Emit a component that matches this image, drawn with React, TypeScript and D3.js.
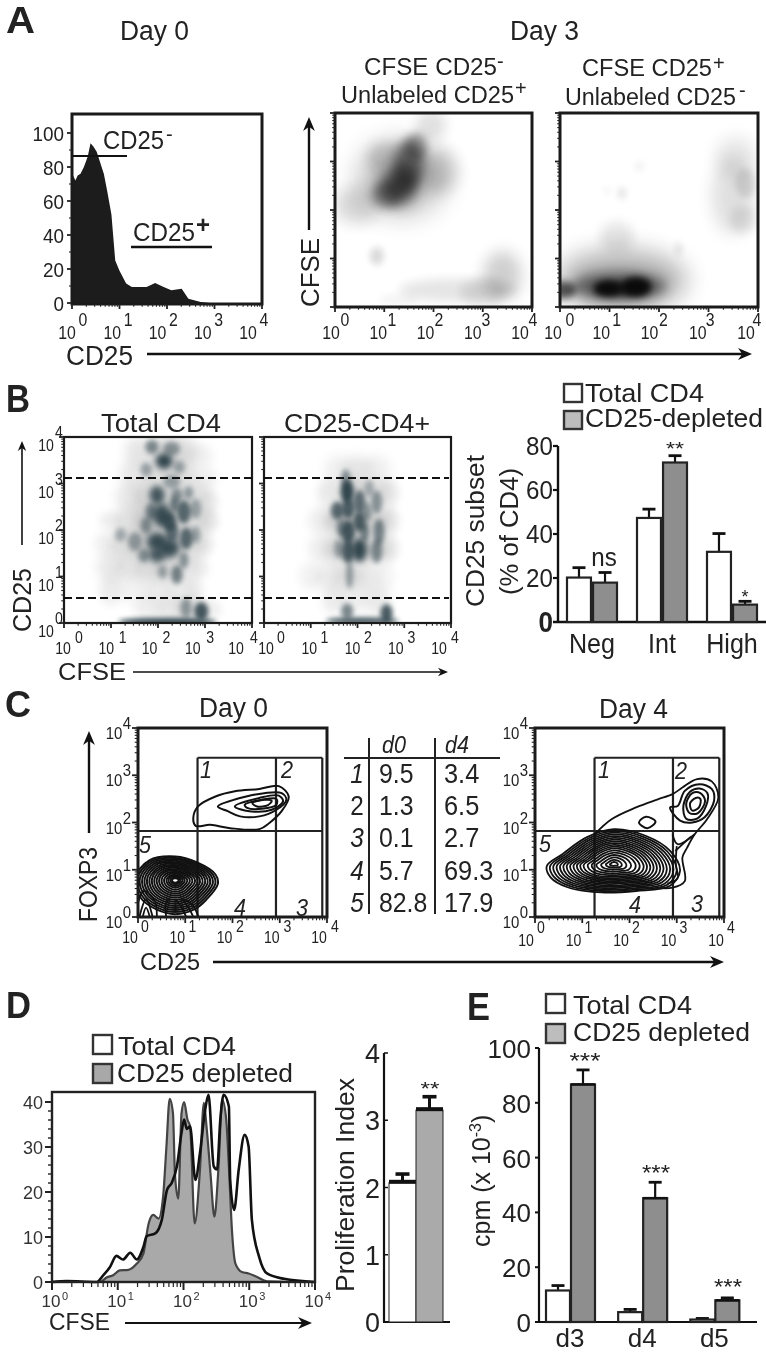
import React from 'react';
import * as d3 from 'd3';

// panel A histogram, log10 CD25 and % of max
const histLog = [0, .04, .07, .12, .18, .25, .33, .39, .45, .52, .6, .67, .74, .83, .91, 1.0, 1.14, 1.26, 1.57, 1.75, 1.93, 2.09, 2.2, 2.31, 2.45, 2.71, 2.91, 4];
const histPct = [76, 74, 72, 75, 76, 80, 86, 94, 92, 89, 82, 76, 66, 52, 25, 19, 11.4, 9.4, 9.4, 11.8, 9.4, 7.5, 8, 8.4, 2.5, .6, 0, 0];

// density clusters: [log x, log y, rx, ry, opacity]
type Blob = number[];
const denA2: Blob[] = [
  [1.35, 2.65, .85, .72, .3], [.45, 2.1, .45, .38, .16], [2.1, 2.8, .38, .45, .18], [1.95, 3.75, .3, .32, .12], [1.0, 3.1, .35, .3, .15],
  [1.25, 2.45, .38, .36, .62], [1.5, 2.95, .3, .5, .55], [1.65, 3.3, .22, .28, .35], [1.05, 2.3, .3, .25, .32], [1.4, 2.65, .28, .35, .35],
  [3.4, .65, .38, .5, .2], [2.5, .35, 1.2, .24, .1], [.85, 1.05, .14, .18, .16], [3.0, .3, .45, .28, .1], [1.3, .15, .4, .12, .04],
];
const denA3: Blob[] = [
  [1.25, .55, 1.3, .62, .32], [1.2, .42, .95, .3, .5], [.95, .38, .28, .16, .95], [1.55, .42, .3, .2, .98], [1.25, .38, .5, .14, .8],
  [.05, .35, .28, .18, .65], [3.5, 2.3, .42, .8, .13], [3.55, 3.1, .42, .42, .09], [3.75, 2.55, .2, .3, .12], [3.7, 1.8, .25, .28, .09],
  [1.25, 2.35, .08, .12, .12], [.95, 2.4, .05, .06, .1], [1.6, 2.9, .1, .1, .06], [2.4, 1.2, .08, .15, .1], [1.15, 1.45, .35, .3, .1],
];
const denB1: Blob[] = [
  [1.6, 3.7, .3, .3, .16], [2.1, 3.7, .3, .3, .25], [2.5, 3.7, .3, .3, .22], [2.9, 3.6, .25, .25, .1],
  [1.5, 3.2, .3, .3, .15], [2.0, 3.2, .3, .3, .22], [2.5, 3.2, .3, .3, .22], [3.0, 3.1, .25, .25, .1],
  [1.4, 2.7, .3, .3, .15], [1.8, 2.7, .3, .3, .25], [2.3, 2.7, .3, .3, .25], [2.8, 2.7, .3, .3, .2], [3.1, 2.6, .2, .25, .1],
  [1.0, 2.2, .25, .2, .1], [1.4, 2.2, .3, .3, .18], [1.8, 2.2, .3, .3, .3], [2.3, 2.2, .3, .3, .3], [2.8, 2.2, .3, .3, .22], [3.1, 2.2, .2, .25, .12],
  [.9, 1.7, .25, .25, .1], [1.3, 1.7, .3, .3, .2], [1.7, 1.7, .3, .3, .3], [2.2, 1.7, .3, .3, .32], [2.7, 1.7, .3, .3, .22], [3.0, 1.7, .2, .25, .1],
  [1.0, 1.2, .3, .3, .14], [1.4, 1.2, .3, .3, .14], [1.8, 1.2, .3, .3, .2], [2.2, 1.2, .3, .3, .22], [2.6, 1.2, .3, .3, .15], [2.9, 1.2, .2, .25, .08],
  [1.0, .7, .25, .3, .12], [1.5, .7, .3, .3, .08], [2.0, .7, .3, .3, .12], [2.5, .7, .3, .3, .12], [2.8, .7, .2, .25, .08],
  [1.8, .3, .3, .25, .1], [2.3, .3, .3, .25, .14], [2.7, .3, .3, .25, .2], [3.1, .3, .25, .2, .1],
  [2.13, 3.48, .18, .17, .95], [1.87, 3.79, .14, .15, .55], [2.29, 3.75, .18, .15, .45], [1.98, 2.75, .16, .2, .85],
  [2.08, 2.32, .2, .25, .9], [2.55, 2.39, .15, .25, .75], [2.24, 2.18, .15, .2, .8], [1.98, 1.75, .22, .2, .9],
  [2.24, 1.61, .22, .2, .9], [2.6, 1.82, .14, .24, .75], [1.98, 1.46, .18, .16, .8], [2.4, 1.04, .12, .2, .6],
  [1.51, 1.75, .15, .2, .4], [2.29, 3.04, .18, .15, .4], [2.8, 2.46, .12, .22, .4], [2.4, 2.75, .12, .15, .5],
  [1.75, 2.1, .12, .18, .5], [2.35, 2.55, .1, .16, .6], [2.3, 1.95, .14, .2, .7], [1.85, 2.4, .12, .18, .55], [2.65, 2.8, .1, .14, .45],
  [1.7, 1.45, .12, .15, .5], [2.55, 1.35, .1, .18, .5], [2.8, 1.9, .1, .18, .4], [1.75, 3.3, .12, .15, .4], [2.45, 3.35, .12, .14, .4], [2.1, 1.1, .1, .15, .4], [1.2, 1.9, .12, .15, .36],
  [2.92, .25, .15, .2, .85], [2.6, .32, .12, .22, .45], [2.2, .03, 1.05, .08, .98],
];
const denB2: Blob[] = [
  [1.6, 3.3, .3, .3, .1], [2.0, 3.3, .3, .3, .14], [2.4, 3.3, .3, .3, .1],
  [1.4, 2.8, .25, .3, .14], [1.9, 2.8, .3, .3, .3], [2.4, 2.8, .3, .3, .2], [2.7, 2.8, .2, .3, .1],
  [1.2, 2.2, .25, .3, .1], [1.6, 2.2, .3, .3, .3], [2.0, 2.2, .3, .3, .32], [2.4, 2.2, .3, .3, .25], [2.7, 2.2, .2, .3, .12],
  [1.2, 1.6, .25, .3, .1], [1.6, 1.6, .3, .3, .28], [2.0, 1.6, .3, .3, .32], [2.4, 1.6, .3, .3, .25], [2.7, 1.6, .2, .3, .1],
  [1.0, 1.0, .25, .3, .08], [1.4, 1.0, .3, .3, .12], [1.8, 1.0, .3, .3, .18], [2.2, 1.0, .3, .3, .14], [2.6, 1.0, .2, .3, .06],
  [1.5, .5, .25, .3, .12], [1.9, .5, .25, .3, .1], [2.4, .5, .3, .3, .14],
  [1.78, 2.82, .14, .25, .95], [1.8, 2.46, .14, .22, .8], [1.57, 2.42, .14, .2, .75], [2.04, 2.6, .13, .25, .7],
  [2.04, 2.18, .13, .22, .8], [1.8, 1.96, .15, .25, .85], [2.04, 1.57, .16, .25, .95], [1.8, 1.54, .14, .25, .8],
  [2.41, 2.6, .12, .25, .5], [2.46, 1.96, .12, .28, .6], [2.41, 1.54, .12, .25, .55], [1.83, 1.04, .08, .3, .45],
  [1.65, 2.05, .1, .2, .5], [2.15, 1.95, .1, .2, .6], [1.6, 1.6, .1, .2, .4], [2.2, 2.4, .1, .2, .45], [1.75, 3.1, .1, .2, .55], [2.25, 2.9, .1, .18, .35],
  [2.62, .21, .13, .2, .85], [1.78, .25, .13, .17, .6], [2.1, .05, .78, .07, .9],
];

// panel C contours, log x / log y
const c0Upper = [
  [[1.17, 2.1], [1.27, 2.34], [1.64, 2.55], [2.05, 2.66], [2.57, 2.71], [2.98, 2.77], [3.19, 2.55], [3.04, 2.24], [2.78, 1.99], [2.57, 1.86], [1.95, 1.88], [1.53, 1.95], [1.22, 1.93]],
  [[1.69, 2.34], [2.16, 2.52], [2.67, 2.62], [3.04, 2.62], [3.14, 2.48], [2.93, 2.27], [2.57, 2.13], [2.16, 2.13], [1.9, 2.24]],
  [[2.05, 2.34], [2.57, 2.52], [2.98, 2.57], [3.07, 2.45], [2.83, 2.27], [2.36, 2.24]],
  [[2.26, 2.38], [2.62, 2.48], [2.93, 2.5], [2.93, 2.38], [2.62, 2.29], [2.31, 2.31]],
  [[2.42, 2.41], [2.67, 2.48], [2.83, 2.46], [2.75, 2.37], [2.52, 2.34]],
];
const c0Center = [.79, .78];
const c0Outline = [[0, .5], [.45, .38], [.85, .12], [.9, -.08], [.65, -.42], [.4, -.62], [0, -.72], [-.4, -.62], [-.75, -.35], [-.85, .05], [-.55, .42]];
const c0Levels = [1, .94, .88, .82, .76, .7, .64, .58, .52, .46, .4, .34, .28, .22, .17, .12, .08];
const c0Arches = [
  [[.03, 0], [.17, .37], [.31, 0]], [[.1, 0], [.17, .2], [.25, 0]], [[.0, .3], [.12, .55], [.35, .35], [.4, 0]],
  [[1.28, 0], [1.17, .23], [1.0, .37]], [[1.17, 0], [1.07, .2], [.92, .4]], [[1.02, 0], [.93, .19], [.81, .36]], [[.6, 0], [.58, .22], [.65, .4]],
];
const c4Center = [1.67, 1.12];
const c4Outline = [[0, .74], [.67, .6], [1.19, .28], [1.4, -.14], [1.19, -.46], [.47, -.57], [-.26, -.6], [-.98, -.49], [-1.34, -.28], [-1.42, -.04], [-1.09, .21], [-.57, .57]];
const c4Levels = [1, .95, .9, .85, .8, .75, .7, .65, .6, .55, .5, .45, .39, .33, .26, .19, .12, .06];
const c4Link = [[1.26, 1.75], [1.62, 2.07], [2.14, 2.32], [2.6, 2.49], [2.91, 2.6], [3.12, 2.74], [3.43, 2.92], [3.74, 2.87], [3.88, 2.53], [3.64, 2.07], [3.38, 1.75], [3.22, 1.47], [3.12, 1.26], [3.17, .76], [2.91, .62], [2.55, .62]];
const c4Upper = [
  [[2.86, 2.32], [3.02, 2.35], [3.17, 2.67], [3.48, 2.81], [3.74, 2.71], [3.79, 2.46], [3.59, 2.11], [3.33, 2.0], [3.07, 2.04]],
  [[3.14, 2.35], [3.28, 2.65], [3.48, 2.72], [3.65, 2.62], [3.62, 2.35], [3.43, 2.08], [3.2, 2.08]],
  [[3.2, 2.4], [3.33, 2.62], [3.5, 2.62], [3.6, 2.46], [3.45, 2.2], [3.27, 2.2]],
  [[3.28, 2.4], [3.4, 2.52], [3.5, 2.5], [3.47, 2.32], [3.33, 2.25]],
  [[2.2, 2.0], [2.35, 2.12], [2.55, 2.02], [2.38, 1.88]],
];
const c4Extra = [[[2.91, 1.75], [3.02, 1.54], [3.38, 1.75]], [[2.97, 1.4], [3.3, 1.7]], [[3.0, 1.5], [2.98, 1.1], [3.02, .83], [2.8, .7]]];

const tableRows = ['1', '2', '3', '4', '5'];
const tableD0 = ['9.5', '1.3', '0.1', '5.7', '82.8'];
const tableD4 = ['3.4', '6.5', '2.7', '69.3', '17.9'];

// panel D histograms: log10 CFSE and counts
const grayLog = [0, .73, .83, .93, 1.03, 1.16, 1.29, 1.39, 1.47, 1.54, 1.62, 1.69, 1.74, 1.79, 1.84, 1.87, 1.92, 1.97, 2.01, 2.06, 2.1, 2.17, 2.25, 2.31, 2.35, 2.41, 2.47, 2.53, 2.59, 2.65, 2.69, 2.74, 2.79, 2.89, 2.99, 3.12, 3.27, 4];
const grayCount = [0, 0, 1, 1.5, 2.6, 2.7, 4.1, 6.3, 13, 14.9, 14.1, 19, 30, 40.7, 37.5, 24, 18.5, 37.5, 40, 36.1, 34.6, 13, 24.9, 39.8, 34.6, 24.2, 14.5, 24.9, 40.5, 36.1, 25.7, 10.8, 4.1, 2.2, 1.9, 1.1, .15, 0];
const blackLog = [0, .22, .68, .78, .88, .98, 1.08, 1.19, 1.29, 1.39, 1.44, 1.57, 1.67, 1.75, 1.82, 1.9, 1.97, 2.01, 2.05, 2.1, 2.18, 2.25, 2.33, 2.38, 2.46, 2.51, 2.56, 2.61, 2.69, 2.71, 2.77, 2.84, 2.93, 2.99, 3.04, 3.15, 3.27, 3.53, 4];
const blackCount = [0, .2, 0, 1.5, 3.3, 5.8, 5, 6.5, 5, 7.8, 10.2, 10.8, 13.8, 20.5, 22, 25.7, 33.2, 36.1, 34, 34.6, 22.7, 28.6, 38.3, 41.6, 25.7, 25, 36.1, 41.6, 39, 22.7, 16, 25, 32.7, 30.1, 13.8, 5.6, 1.9, .7, 0];

// bar charts
const subsetCats = ['Neg', 'Int', 'High'];
const subsetTotal = [20.2, 47.3, 31.9];
const subsetTotalErr = [24.7, 51.3, 40.2];
const subsetDepl = [17.9, 72.5, 7.9];
const subsetDeplErr = [22.5, 75.6, 9.4];
const prolifVals = [2.07, 3.15];
const prolifErr = [2.2, 3.35];
const cpmCats = ['d3', 'd4', 'd5'];
const cpmTotal = [11.5, 3.6, .9];
const cpmTotalErr = [13.3, 4.6, 1.3];
const cpmDepl = [86.7, 45.2, 7.9];
const cpmDeplErr = [92, 51, 8.8];

const FONT = '"Liberation Sans", Arial, sans-serif';
const INK = '#222';
const decades = [0, 1, 2, 3, 4];
const minors = decades.slice(0, 4).flatMap(d => [2, 3, 4, 5, 6, 7, 8, 9].map(m => d + Math.log10(m)));

const T = ({ x, y, s = 18, len, anchor = 'start', rot, i, b, sx, fill = INK, children }: any) => (
  <text fontSize={s} fontFamily={FONT} fill={fill} textAnchor={anchor}
    fontStyle={i ? 'italic' : undefined} fontWeight={b ? 'bold' : undefined}
    textLength={len} lengthAdjust={len ? 'spacingAndGlyphs' : undefined}
    transform={`translate(${x} ${y})${rot ? ` rotate(${rot})` : ''}${sx ? ` scale(${sx} 1)` : ''}`}>{children}</text>
);

const Arrow = ({ x1, y1, x2, y2, w = 2.4, head = 14 }: any) => {
  const a = Math.atan2(y2 - y1, x2 - x1);
  const pt = (d: number, o: number) => `${x2 - d * Math.cos(a) - o * Math.sin(a)},${y2 - d * Math.sin(a) + o * Math.cos(a)}`;
  return (
    <g>
      <line x1={x1} y1={y1} x2={x2 - head * .6 * Math.cos(a)} y2={y2 - head * .6 * Math.sin(a)} stroke="#111" strokeWidth={w} />
      <polygon points={`${x2},${y2} ${pt(head, head * .42)} ${pt(head * .7, 0)} ${pt(head, -head * .42)}`} fill="#111" />
    </g>
  );
};

const Frame = ({ x, y, sw = 3 }: any) => {
  const [x0, x1] = x.range(), [y0, y1] = y.range();
  return <rect x={x0} y={y1} width={x1 - x0} height={y0 - y1} fill="none" stroke="#1a1a1a" strokeWidth={sw} />;
};

// log ticks along left and bottom of a flow plot
const LogTicks = ({ x, y, left = true, bottom = true, len = 5 }: any) => (
  <g stroke="#222">
    {bottom && decades.map(d => <line key={d} x1={x(d)} x2={x(d)} y1={y.range()[0]} y2={y.range()[0] + len} strokeWidth={1.8} />)}
    {bottom && minors.map(d => <line key={d} x1={x(d)} x2={x(d)} y1={y.range()[0]} y2={y.range()[0] + len * .55} strokeWidth={1.1} />)}
    {left && decades.map(d => <line key={d} y1={y(d)} y2={y(d)} x1={x.range()[0]} x2={x.range()[0] - len} strokeWidth={1.8} />)}
    {left && minors.map(d => <line key={d} y1={y(d)} y2={y(d)} x1={x.range()[0]} x2={x.range()[0] - len * .55} strokeWidth={1.1} />)}
  </g>
);

// "10" and its raised exponent are placed along their own label spans
const XPow = ({ ten, sup, y0, gap = 13, s = 18 }: any) => {
  const tx = d3.scaleLinear().domain([0, 4]).range(ten);
  const sx = d3.scaleLinear().domain([0, 4]).range(sup);
  return (
    <g>
      {decades.map(d => (
        <g key={d}>
          <T x={tx(d)} y={y0} s={s} sx={.88} anchor="middle">10</T>
          <T x={sx(d)} y={y0 - gap} s={s} sx={.88} anchor="middle">{d}</T>
        </g>
      ))}
    </g>
  );
};

const YPow = ({ y, xTen, xSup, dy = 14, sdy = -2, s = 17 }: any) => (
  <g>
    {decades.map(d => (
      <g key={d}>
        <T x={xTen} y={y(d) + dy} s={s} sx={.88} anchor="middle">10</T>
        <T x={xSup} y={y(d) + sdy} s={s} sx={.88} anchor="middle">{d}</T>
      </g>
    ))}
  </g>
);

// faint clusters stay neutral grey, only the dense ones take the plot colour
const Density = ({ id, data, x, y, color, cloud, blur }: any) => {
  const [x0, x1] = x.range(), [y0, y1] = y.range();
  const kx = (x1 - x0) / 4, ky = (y0 - y1) / 4;
  const sigma = (b: Blob) => Math.max(blur, .4 * Math.min(b[2] * kx, b[3] * ky));
  return (
    <g>
      <defs>
        <clipPath id={id}><rect x={x0} y={y1} width={x1 - x0} height={y0 - y1} /></clipPath>
        {data.map((b: Blob, i: number) => (
          <filter key={i} id={`${id}f${i}`} x="-150%" y="-150%" width="400%" height="400%" colorInterpolationFilters="sRGB"><feGaussianBlur stdDeviation={sigma(b)} /></filter>
        ))}
      </defs>
      <g clipPath={`url(#${id})`}>
        {data.map((b: Blob, i: number) => (
          <ellipse key={i} cx={x(b[0])} cy={y(b[1])} rx={b[2] * kx} ry={b[3] * ky} fill={b[4] < .35 ? cloud : color} opacity={b[4]} filter={`url(#${id}f${i})`} />
        ))}
      </g>
    </g>
  );
};

const Rings = ({ rings, x, y, sw = 2 }: any) => {
  const line = d3.line<number[]>().x(p => x(p[0])).y(p => y(p[1])).curve(d3.curveCatmullRomClosed.alpha(.5));
  return <g fill="none" stroke="#111" strokeWidth={sw}>{rings.map((r: number[][], i: number) => <path key={i} d={line(r) as string} />)}</g>;
};

const Opens = ({ lines, x, y, sw = 1.8 }: any) => {
  const line = d3.line<number[]>().x(p => x(p[0])).y(p => y(p[1])).curve(d3.curveCatmullRom.alpha(.5));
  return <g fill="none" stroke="#111" strokeWidth={sw}>{lines.map((r: number[][], i: number) => <path key={i} d={line(r) as string} />)}</g>;
};

const scaled = (center: number[], outline: number[][], levels: number[]) =>
  levels.map(l => outline.map(p => [center[0] + p[0] * l, center[1] + p[1] * l]));

const Gates = ({ x, y }: any) => {
  const gx = [1.26, 2.92, 3.9], gy = [3.37, 1.82];
  return (
    <g stroke="#222" strokeWidth={2.2} fill="none">
      <line x1={x(0)} x2={x(gx[2])} y1={y(gy[1])} y2={y(gy[1])} />
      <line x1={x(gx[0])} x2={x(gx[2])} y1={y(gy[0])} y2={y(gy[0])} />
      {gx.map(g => <line key={g} x1={x(g)} x2={x(g)} y1={y(gy[0])} y2={y(0)} />)}
    </g>
  );
};

const Legend = ({ x, y0, y1, box, tx, txt, txtLen, fill, base, s, gap, sw = 2.4 }: any) => (
  <g>
    <rect x={x} y={y0} width={box} height={box} fill="#fff" stroke="#333" strokeWidth={sw} />
    <rect x={x} y={y1} width={box} height={box} fill={fill} stroke="#333" strokeWidth={sw} />
    <T x={tx} y={base[0]} s={s} len={txtLen[0]}>{txt[0]}</T>
    <T x={tx + gap} y={base[1]} s={s} len={txtLen[1]}>{txt[1]}</T>
  </g>
);

const Bar = ({ x0, x1, top, err, base, fill, sw = 2.2, capW, errW = 2.2 }: any) => (
  <g>
    <line x1={(x0 + x1) / 2} x2={(x0 + x1) / 2} y1={top} y2={err} stroke="#111" strokeWidth={errW} />
    <line x1={(x0 + x1) / 2 - capW / 2} x2={(x0 + x1) / 2 + capW / 2} y1={err} y2={err} stroke="#111" strokeWidth={errW + .6} />
    <rect x={x0} y={top} width={x1 - x0} height={base - top} fill={fill} stroke="#222" strokeWidth={sw} />
  </g>
);

export default function App() {
  // A
  const hx = d3.scaleLinear().domain([0, 4]).range([72, 262]);
  const hy = d3.scaleLinear().domain([0, 100]).range([303, 133]);
  const histFrameY = d3.scaleLinear().domain([0, 4]).range([304, 114]);
  const histArea = d3.area<number>().x((_, i) => hx(histLog[i])).y0(hy(0)).y1(d => hy(d));
  const a2x = d3.scaleLinear().domain([0, 4]).range([335, 532]);
  const a3x = d3.scaleLinear().domain([0, 4]).range([560, 758]);
  const ay = d3.scaleLinear().domain([0, 4]).range([307, 113]);

  // B
  const b1x = d3.scaleLinear().domain([0, 4]).range([64, 252]);
  const b2x = d3.scaleLinear().domain([0, 4]).range([264, 451]);
  const by = d3.scaleLinear().domain([0, 4]).range([623, 437]);
  const sy = d3.scaleLinear().domain([0, 80]).range([622, 446]);
  const sBand = d3.scaleBand().domain(subsetCats).range([557, 767]);
  const sInner = d3.scaleBand().domain(['t', 'd']).range([0, 50]).paddingInner(.08);

  // C
  const c0x = d3.scaleLinear().domain([0, 4]).range([138, 327]);
  const c4x = d3.scaleLinear().domain([0, 4]).range([535, 724]);
  const cy = d3.scaleLinear().domain([0, 4]).range([917, 728]);

  // D
  const dx = d3.scaleLinear().domain([0, 4]).range([52, 315]);
  const dy = d3.scaleLinear().domain([0, 40]).range([1282, 1102]);
  const grayArea = d3.area<number>().x((_, i) => dx(grayLog[i])).y0(dy(0)).y1(d => dy(d)).curve(d3.curveMonotoneX);
  const blackLine = d3.line<number>().x((_, i) => dx(blackLog[i])).y(d => dy(d)).curve(d3.curveMonotoneX);
  const py = d3.scaleLinear().domain([0, 4]).range([1322, 1053]);
  const pBars = d3.scaleBand().domain(['t', 'd']).range([389, 443]);

  // E
  const ey = d3.scaleLinear().domain([0, 100]).range([1322, 1048]);
  const eBand = d3.scaleBand().domain(cpmCats).range([534, 750.5]);
  const eInner = d3.scaleBand().domain(['t', 'd']).range([0, 49]).paddingInner(.04);

  return (
    <svg width={766} height={1354} style={{ position: 'absolute', left: 0, top: 0, background: '#fff' }}>
      <defs>
        <filter id="soft" x="0" y="0" width="100%" height="100%" colorInterpolationFilters="sRGB"><feGaussianBlur stdDeviation=".45" /></filter>
      </defs>
      <g filter="url(#soft)">
        {/* ---- A ---- */}
        <T x={6} y={33} s={36} b len={29}>A</T>
        <T x={120} y={40} s={27} len={69}>Day 0</T>
        <T x={510} y={40} s={27} len={69}>Day 3</T>
        <T x={364} y={75} s={23} len={133}>CFSE CD25</T>
        <T x={497} y={68} s={20}>-</T>
        <T x={341} y={103} s={23} len={173}>Unlabeled CD25</T>
        <T x={515} y={95} s={20}>+</T>
        <T x={582} y={76} s={23} len={130}>CFSE CD25</T>
        <T x={713} y={70} s={20}>+</T>
        <T x={565} y={105} s={23} len={171}>Unlabeled CD25</T>
        <T x={739} y={97} s={20}>-</T>

        <path d={histArea(histPct) as string} fill="#1c1c1c" />
        <Frame x={hx} y={histFrameY} />
        <LogTicks x={hx} y={histFrameY} left={false} />
        {[0, 20, 40, 60, 80, 100].map(v => (
          <g key={v}>
            <line x1={72} x2={67} y1={hy(v)} y2={hy(v)} stroke="#222" strokeWidth={1.8} />
            <T x={64} y={hy(v) + 8} s={21} sx={.9} anchor="end">{v}</T>
          </g>
        ))}
        {[10, 30, 50, 70, 90].map(v => <line key={v} x1={72} x2={69} y1={hy(v)} y2={hy(v)} stroke="#222" strokeWidth={1.1} />)}
        <line x1={73} x2={127} y1={156} y2={156} stroke="#111" strokeWidth={2.2} />
        <T x={103} y={149} s={25} len={61}>CD25</T>
        <T x={166} y={141} s={20}>-</T>
        <line x1={131} x2={212} y1={247} y2={247} stroke="#111" strokeWidth={2.6} />
        <T x={133} y={241} s={25} len={62}>CD25</T>
        <T x={196} y={233} s={24} b>+</T>
        <XPow ten={[67, 248]} sup={[83, 264]} y0={339} />
        <T x={66} y={365} s={27} len={67}>CD25</T>
        <Arrow x1={147} y1={354} x2={752} y2={354} />

        <Density id="a2" data={denA2} x={a2x} y={ay} color="#111" cloud="#111" blur={3.5} />
        <Frame x={a2x} y={ay} />
        <LogTicks x={a2x} y={ay} />
        <XPow ten={[331, 520]} sup={[345, 533]} y0={339} />
        <Density id="a3" data={denA3} x={a3x} y={ay} color="#0a0a0a" cloud="#0a0a0a" blur={3.5} />
        <Frame x={a3x} y={ay} />
        <LogTicks x={a3x} y={ay} />
        <XPow ten={[553, 746]} sup={[570, 757]} y0={339} />
        <T x={319} y={307} s={26} len={69} rot={-90}>CFSE</T>
        <Arrow x1={309} y1={230} x2={309} y2={117} />

        {/* ---- B ---- */}
        <T x={6} y={412} s={38} b len={24}>B</T>
        <T x={101} y={432} s={26} len={120}>Total CD4</T>
        <T x={284} y={432} s={26} len={146}>CD25-CD4+</T>
        <Density id="b1" data={denB1} x={b1x} y={by} color="#2a3f47" cloud="#666" blur={2.7} />
        <Density id="b2" data={denB2} x={b2x} y={by} color="#2a3f47" cloud="#666" blur={2.7} />
        <Frame x={b1x} y={by} sw={2.2} />
        <Frame x={b2x} y={by} sw={2.2} />
        <LogTicks x={b1x} y={by} />
        <LogTicks x={b2x} y={by} />
        {[478, 598].map(v => (
          <g key={v}>
            <line x1={64} x2={252} y1={v} y2={v} stroke="#111" strokeWidth={2.2} strokeDasharray="8 4" />
            <line x1={264} x2={449} y1={v} y2={v} stroke="#111" strokeWidth={2.2} strokeDasharray="8 4" />
          </g>
        ))}
        <YPow y={by} xTen={46} xSup={59} dy={14} sdy={1} s={16} />
        <XPow ten={[63, 236]} sup={[79, 254]} y0={654} gap={11} s={16} />
        <XPow ten={[266, 439]} sup={[281, 455]} y0={654} gap={11} s={16} />
        <T x={58} y={680} s={23} len={68}>CFSE</T>
        <Arrow x1={133} y1={672} x2={448} y2={672} w={1.6} head={10} />
        <T x={31} y={632} s={25} len={64} rot={-90}>CD25</T>
        <Arrow x1={22} y1={545} x2={22} y2={441} w={1.6} head={10} />

        <T x={484} y={607} s={25} len={152} rot={-90}>CD25 subset</T>
        <T x={518} y={595} s={25} len={127} rot={-90}>(% of CD4)</T>
        <line x1={558} x2={558} y1={446} y2={622} stroke="#111" strokeWidth={2.4} />
        <line x1={553} x2={766} y1={622} y2={622} stroke="#111" strokeWidth={2.6} />
        {[20, 40, 60, 80].map(v => (
          <g key={v}>
            <line x1={553} x2={558} y1={sy(v)} y2={sy(v)} stroke="#111" strokeWidth={2.2} />
            <T x={553} y={sy(v) + 9} s={26} sx={.93} anchor="end">{v}</T>
          </g>
        ))}
        <T x={553} y={632} s={29} b sx={.9} anchor="end">0</T>
        {subsetCats.map((c, i) => {
          const x0 = (sBand(c) as number) + 10;
          const tx = x0 + (sInner('t') as number), dx0 = x0 + (sInner('d') as number), bw = sInner.bandwidth();
          return (
            <g key={c}>
              <Bar x0={tx} x1={tx + bw} top={sy(subsetTotal[i])} err={sy(subsetTotalErr[i])} base={sy(0)} fill="#fff" capW={13} />
              <Bar x0={dx0} x1={dx0 + bw} top={sy(subsetDepl[i])} err={sy(subsetDeplErr[i])} base={sy(0)} fill="#8e8e8e" capW={13} />
              <T x={x0 + 25} y={653} s={27} sx={.93} anchor="middle">{c}</T>
            </g>
          );
        })}
        <T x={604} y={566} s={26} sx={.93} anchor="middle">ns</T>
        <T x={675} y={455} s={18} len={18} anchor="middle">**</T>
        <T x={745} y={603} s={18} anchor="middle">*</T>
        <Legend x={564} y0={384} y1={411} box={18} tx={585} txt={['Total CD4', 'CD25-depleted']} txtLen={[119, 178]}
          fill="#bdbdbd" base={[402, 427]} s={25} gap={0} />

        {/* ---- C ---- */}
        <T x={5} y={717} s={36} b len={26}>C</T>
        <T x={199} y={717} s={27} len={69}>Day 0</T>
        <T x={599} y={718} s={27} len={69}>Day 4</T>
        <Gates x={c0x} y={cy} />
        <Gates x={c4x} y={cy} />
        <defs>
          <clipPath id="c0clip"><rect x={138} y={728} width={189} height={189} /></clipPath>
          <clipPath id="c4clip"><rect x={535} y={728} width={189} height={189} /></clipPath>
        </defs>
        <g clipPath="url(#c0clip)">
          <Rings rings={c0Upper} x={c0x} y={cy} />
          <Rings rings={scaled(c0Center, c0Outline, c0Levels)} x={c0x} y={cy} />
          <Opens lines={c0Arches} x={c0x} y={cy} />
        </g>
        <g clipPath="url(#c4clip)">
          <Opens lines={[c4Link, ...c4Extra]} x={c4x} y={cy} />
          <Rings rings={c4Upper} x={c4x} y={cy} />
          <Rings rings={scaled(c4Center, c4Outline, c4Levels)} x={c4x} y={cy} sw={1.8} />
        </g>
        <Frame x={c0x} y={cy} />
        <Frame x={c4x} y={cy} />
        <LogTicks x={c0x} y={cy} len={6} />
        <LogTicks x={c4x} y={cy} len={6} />
        {[[206, 778, '1'], [287, 778, '2'], [145, 853, '5'], [240, 916, '4'], [302, 916, '3']].map(l => (
          <T key={l[2] as string} x={l[0]} y={l[1]} s={24} sx={.9} i anchor="middle">{l[2]}</T>
        ))}
        {[[604, 778, '1'], [681, 779, '2'], [545, 852, '5'], [635, 913, '4'], [697, 912, '3']].map(l => (
          <T key={l[2] as string} x={l[0]} y={l[1]} s={24} sx={.9} i anchor="middle">{l[2]}</T>
        ))}
        <YPow y={cy} xTen={114} xSup={127} dy={11} sdy={1} />
        <YPow y={cy} xTen={511} xSup={524} dy={11} sdy={1} />
        <XPow ten={[130, 319]} sup={[145, 335]} y0={943} gap={11} s={16} />
        <XPow ten={[526, 716]} sup={[541, 731]} y0={946} gap={13} s={16} />
        <T x={97} y={922} s={25} len={75} rot={-90}>FOXP3</T>
        <Arrow x1={89} y1={833} x2={89} y2={731} />
        <T x={140} y={970} s={23} len={60}>CD25</T>
        <Arrow x1={213} y1={962} x2={724} y2={962} />

        <g stroke="#222" strokeWidth={2}>
          <line x1={369} x2={369} y1={738} y2={914} />
          <line x1={435} x2={435} y1={738} y2={914} />
          <line x1={344} x2={500} y1={758} y2={758} />
        </g>
        <T x={382} y={753} s={24} sx={.9} i>d0</T>
        <T x={445} y={753} s={24} sx={.9} i>d4</T>
        {tableRows.map((r, i) => {
          const by0 = [783, 815, 847, 880, 912][i];
          return (
            <g key={r}>
              <T x={357} y={by0} s={27} sx={.9} i={r !== '2'} anchor="middle">{r}</T>
              <T x={379} y={by0} s={27} sx={.92}>{tableD0[i]}</T>
              <T x={444} y={by0} s={27} sx={.94}>{tableD4[i]}</T>
            </g>
          );
        })}

        {/* ---- D ---- */}
        <T x={6} y={1018} s={36} b len={25}>D</T>
        <Legend x={93} y0={1035} y1={1064} box={19} tx={118} txt={['Total CD4', 'CD25 depleted']} txtLen={[118, 176]}
          fill="#a8a8a8" base={[1055, 1082]} s={25} gap={-1} sw={2.4} />
        <path d={grayArea(grayCount) as string} fill="#a9a9a9" stroke="#444" strokeWidth={2.2} />
        <path d={blackLine(blackCount) as string} fill="none" stroke="#111" strokeWidth={2.6} />
        <rect x={52} y={1092} width={263} height={190} fill="none" stroke="#222" strokeWidth={2.4} />
        {decades.map(d => <line key={d} x1={dx(d)} x2={dx(d)} y1={1282} y2={1290} stroke="#222" strokeWidth={2} />)}
        {minors.map(d => <line key={d} x1={dx(d)} x2={dx(d)} y1={1282} y2={1287} stroke="#222" strokeWidth={1.2} />)}
        {d3.range(0, 41, 2).map(v => (
          <line key={v} x1={52} x2={v % 10 ? 48 : 45} y1={dy(v)} y2={dy(v)} stroke="#222" strokeWidth={v % 10 ? 1.4 : 2} />
        ))}
        {[0, 10, 20, 30, 40].map(v => <T key={v} x={43} y={dy(v) + 7} s={18} anchor="end" fill="#333">{v}</T>)}
        {decades.map(d => (
          <g key={d}>
            <T x={dx(d) - 1} y={1307} s={17} anchor="middle" fill="#333">10</T>
            <T x={dx(d) + 10} y={1300} s={11} anchor="start" fill="#333">{d}</T>
          </g>
        ))}
        <T x={49} y={1330} s={23} len={61}>CFSE</T>
        <Arrow x1={125} y1={1323} x2={312} y2={1323} w={2} head={14} />

        <T x={354} y={1292} s={26} len={214} rot={-90}>Proliferation Index</T>
        <line x1={384} x2={384} y1={1053} y2={1322} stroke="#111" strokeWidth={2.2} />
        <line x1={383} x2={450} y1={1322} y2={1322} stroke="#111" strokeWidth={2.2} />
        {[0, 1, 2, 3, 4].map(v => (
          <g key={v}>
            <line x1={384} x2={388} y1={py(v)} y2={py(v)} stroke="#111" strokeWidth={1.5} />
            <T x={380} y={py(v) + 10} s={27} anchor="end">{v}</T>
          </g>
        ))}
        {['t', 'd'].map((k, i) => {
          const x0 = pBars(k) as number, bw = pBars.bandwidth();
          return (
            <g key={k}>
              <Bar x0={x0} x1={x0 + bw} top={py(prolifVals[i])} err={py(prolifErr[i])} base={py(0)} fill={i ? '#aaa' : '#fff'} capW={14} sw={1} errW={3} />
              <line x1={x0} x2={x0 + bw} y1={py(prolifVals[i]) - 1} y2={py(prolifVals[i]) - 1} stroke="#111" strokeWidth={4} />
            </g>
          );
        })}
        <T x={430} y={1095} s={18} len={19} anchor="middle">**</T>

        {/* ---- E ---- */}
        <T x={467} y={1020} s={38} b len={23}>E</T>
        <Legend x={546} y0={994} y1={1024} box={19} tx={573} txt={['Total CD4', 'CD25 depleted']} txtLen={[119, 177]}
          fill="#bdbdbd" base={[1014, 1041]} s={25} gap={0} />
        <line x1={539} x2={539} y1={1048} y2={1322} stroke="#111" strokeWidth={2.2} />
        <line x1={535} x2={757} y1={1322} y2={1322} stroke="#111" strokeWidth={2.2} />
        {[0, 20, 40, 60, 80, 100].map(v => (
          <g key={v}>
            <line x1={535} x2={539} y1={ey(v)} y2={ey(v)} stroke="#111" strokeWidth={2} />
            <T x={531} y={ey(v) + 10} s={26} anchor="end">{v}</T>
          </g>
        ))}
        {cpmCats.map((c, i) => {
          const x0 = (eBand(c) as number) + 12;
          const tx = x0 + (eInner('t') as number), dx0 = x0 + (eInner('d') as number), bw = eInner.bandwidth();
          return (
            <g key={c}>
              <Bar x0={tx} x1={tx + bw} top={ey(cpmTotal[i])} err={ey(cpmTotalErr[i])} base={ey(0)} fill="#fff" capW={13} />
              <Bar x0={dx0} x1={dx0 + bw} top={ey(cpmDepl[i])} err={ey(cpmDeplErr[i])} base={ey(0)} fill="#8e8e8e" capW={13} />
              <line x1={dx0} x2={dx0 + bw} y1={ey(cpmDepl[i])} y2={ey(cpmDepl[i])} stroke="#111" strokeWidth={2.5} />
              <T x={x0 + 24} y={1347} s={26} anchor="middle">{c}</T>
            </g>
          );
        })}
        <T x={585} y={1068} s={22} len={31} anchor="middle">***</T>
        <T x={656} y={1180} s={22} len={28} anchor="middle">***</T>
        <T x={728} y={1294} s={22} len={28} anchor="middle">***</T>
        <text fontSize={25} fontFamily={FONT} fill={INK} transform="translate(490 1247) rotate(-90)">
          cpm (x 10<tspan fontSize={16} dy={-9}>-3</tspan><tspan dy={9}>)</tspan>
        </text>
      </g>
    </svg>
  );
}
